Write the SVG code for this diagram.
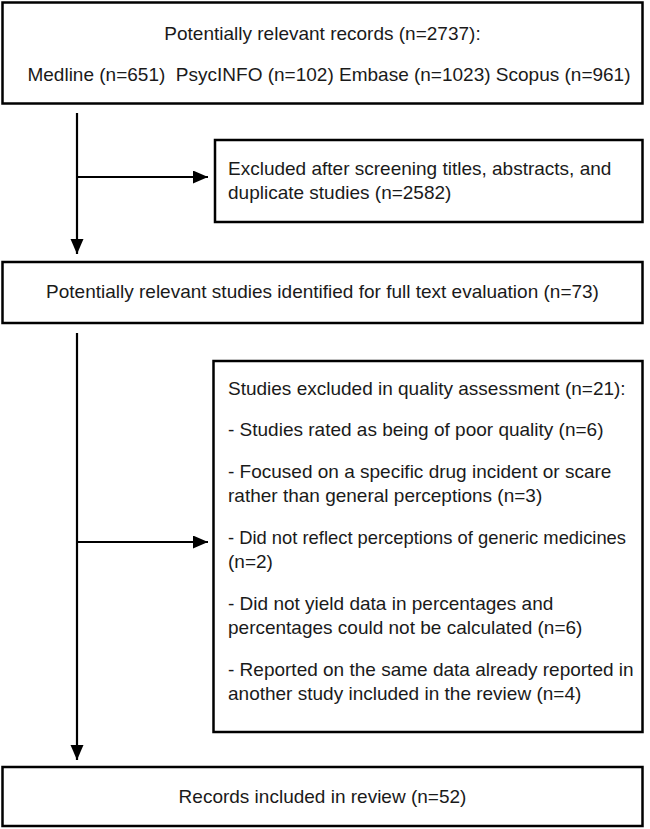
<svg xmlns="http://www.w3.org/2000/svg" width="650" height="829" viewBox="0 0 650 829">
<style>
.box{fill:#fff;stroke:#000;stroke-width:2.5}
.t{font-family:"Liberation Sans",Arial,sans-serif;font-size:19px;fill:#1a1a1a}
.c{text-anchor:middle}
.ln{fill:none;stroke:#000;stroke-width:2.2}
</style>
<defs>
<marker id="ah" markerUnits="userSpaceOnUse" markerWidth="16" markerHeight="14" refX="15" refY="6.5" orient="auto">
<path d="M0,0 L15,6.5 L0,13 z" fill="#000"/>
</marker>
</defs>
<rect width="650" height="829" fill="#fff"/>
<g id="connectors">
<line class="ln" x1="77" y1="113" x2="77" y2="254" marker-end="url(#ah)"/>
<line class="ln" x1="77" y1="177" x2="208" y2="177" marker-end="url(#ah)"/>
<line class="ln" x1="77" y1="333" x2="77" y2="760" marker-end="url(#ah)"/>
<line class="ln" x1="77" y1="542" x2="208" y2="542" marker-end="url(#ah)"/>
</g>
<g id="records">
<rect class="box" x="2.5" y="2.5" width="640" height="101"/>
<text class="t c" x="322.5" y="40">Potentially relevant records (n=2737):</text>
<text class="t c" x="329" y="81" xml:space="preserve">Medline (n=651)  PsycINFO (n=102) Embase (n=1023) Scopus (n=961)</text>
</g>
<g id="excluded-screening">
<rect class="box" x="215" y="140" width="427.5" height="82"/>
<text class="t" x="228" y="175">Excluded after screening titles, abstracts, and</text>
<text class="t" x="228" y="199">duplicate studies (n=2582)</text>
</g>
<g id="fulltext">
<rect class="box" x="2.5" y="262" width="640" height="61"/>
<text class="t c" x="322.5" y="298">Potentially relevant studies identified for full text evaluation (n=73)</text>
</g>
<g id="excluded-quality">
<rect class="box" x="213.5" y="361" width="429" height="371"/>
<text class="t" x="228" y="395">Studies excluded in quality assessment (n=21):</text>
<text class="t" x="228" y="436">- Studies rated as being of poor quality (n=6)</text>
<text class="t" x="228" y="478">- Focused on a specific drug incident or scare</text>
<text class="t" x="228" y="502">rather than general perceptions (n=3)</text>
<text class="t" x="228" y="544" textLength="398" lengthAdjust="spacingAndGlyphs">- Did not reflect perceptions of generic medicines</text>
<text class="t" x="228" y="568">(n=2)</text>
<text class="t" x="228" y="610">- Did not yield data in percentages and</text>
<text class="t" x="228" y="634">percentages could not be calculated (n=6)</text>
<text class="t" x="228" y="676">- Reported on the same data already reported in</text>
<text class="t" x="228" y="700">another study included in the review (n=4)</text>
</g>
<g id="included">
<rect class="box" x="2.5" y="767" width="640" height="59"/>
<text class="t c" x="322.5" y="803">Records included in review (n=52)</text>
</g>
</svg>
